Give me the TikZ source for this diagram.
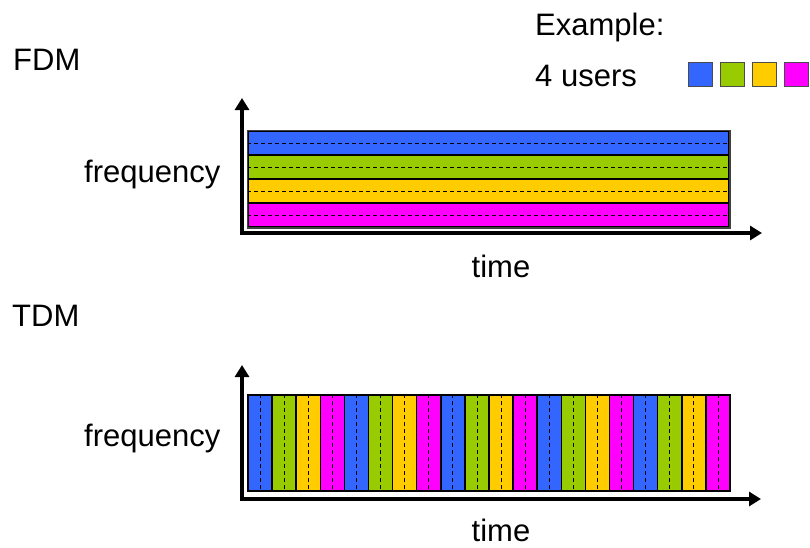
\documentclass[tikz,border=0pt]{standalone}
\usepackage{fontspec}
\setmainfont{Liberation Sans}
\usetikzlibrary{arrows.meta}
\definecolor{userblue}{HTML}{3366FF}
\definecolor{usergreen}{HTML}{99CC00}
\definecolor{useryellow}{HTML}{FFCC00}
\definecolor{usermagenta}{HTML}{FF00FF}

\begin{document}
\begin{tikzpicture}[
                x=1pt,y=-1pt,
                label/.style={font=\fontsize{31}{36}\selectfont,inner sep=0},
                key/.style={draw=black!70,line width=1pt,minimum size=24,inner sep=0},
                band/.style={draw=black,line width=1.5pt,minimum width=481,minimum height=24,inner sep=0},
                slot/.style={draw=black,line width=1.5pt,minimum width=24.1,minimum height=96,inner sep=0},
                mid/.style={line width=0.9pt,dash pattern=on 4pt off 3pt},
                axis/.style={line width=4pt,{Triangle[length=12pt,width=14pt]}-{Triangle[length=12pt,width=14pt]}}
            ]
                \useasboundingbox (0,0) rectangle (810,547);
                \node[label,anchor=base west] (fdm) at (13,70) {FDM};
                \node[label,anchor=base west] (example) at (535,35) {Example:};
                \node[label,anchor=base west] (users) at (535,86) {4 users};
                \foreach \c [count=\k] in {userblue,usergreen,useryellow,usermagenta}
                    {
                    \node[key,fill=\c] (key\k) at ({700+32*(\k-1)},74) {};
                }
                \foreach \c [count=\k] in {userblue,usergreen,useryellow,usermagenta}
                    {
                    \node[band,fill=\c] (band\k) at (488.5,{143+24*(\k-1)}) {};
                    \draw[mid] (band\k.west) -- (band\k.east);
                }
                \draw[draw=black!75,line width=1.5pt] (band1.north west) rectangle (band4.south east);
                \coordinate (fo) at (242,233);
                \coordinate (fy) at (242,98);
                \coordinate (fx) at (762,233);
                \draw[axis] (fy) -- (fo) -- (fx);
                \node[label,anchor=base west] (ffreq) at (84,182) {frequency};
                \node[label,anchor=base] (ftime) at (501,277) {time};

                \node[label,anchor=base west] (tdm) at (12,326) {TDM};
                \foreach \r in {0,...,4}
                    {
                    \foreach \c [count=\k] in {userblue,usergreen,useryellow,usermagenta}
                        {
                        \node[slot,fill=\c] (slot\r\k) at ({260.05+24.1*(4*\r+\k-1)},443) {};
                        \draw[mid] (slot\r\k.north) -- (slot\r\k.south);
                    }
                }
                \coordinate (to) at (242,499);
                \coordinate (ty) at (242,365);
                \coordinate (tx) at (761,499);
                \draw[axis] (ty) -- (to) -- (tx);
                \node[label,anchor=base west] (tfreq) at (84,446) {frequency};
                \node[label,anchor=base] (ttime) at (501,541) {time};
            \end{tikzpicture}
\end{document}
